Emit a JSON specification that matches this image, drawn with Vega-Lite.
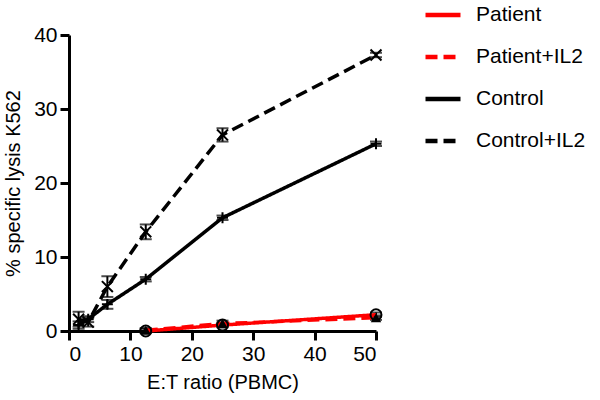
{
  "$schema": "https://vega.github.io/schema/vega-lite/v6.json",
  "autosize": "none",
  "width": 307,
  "height": 296,
  "padding": {"left": 69, "top": 35, "right": 224, "bottom": 69},
  "background": "white",
  "config": {
    "view": {"stroke": null},
    "font": "Liberation Sans",
    "axis": {
      "domainColor": "black", "domainWidth": 3, "tickColor": "black", "tickWidth": 3, "tickSize": 9,
      "labelColor": "black", "labelFontSize": 21, "labelFont": "Liberation Sans",
      "titleColor": "black", "titleFontSize": 20, "titleFont": "Liberation Sans", "titleFontWeight": "normal",
      "grid": false, "labelPadding": 3
    }
  },
  "data": {"values": [
    {"series": "Control+IL2", "x": 1.5625, "y": 1.6, "lo": 0.6, "hi": 2.6},
    {"series": "Control+IL2", "x": 3.125, "y": 1.2, "lo": 0.6, "hi": 1.8},
    {"series": "Control+IL2", "x": 6.25, "y": 6.0, "lo": 4.6, "hi": 7.4},
    {"series": "Control+IL2", "x": 12.5, "y": 13.4, "lo": 12.4, "hi": 14.4},
    {"series": "Control+IL2", "x": 25, "y": 26.5, "lo": 25.6, "hi": 27.4},
    {"series": "Control+IL2", "x": 50, "y": 37.3, "lo": 37.0, "hi": 37.6},
    {"series": "Control", "x": 1.5625, "y": 0.8, "lo": 0.3, "hi": 1.3},
    {"series": "Control", "x": 3.125, "y": 1.6, "lo": 1.2, "hi": 2.0},
    {"series": "Control", "x": 6.25, "y": 3.6, "lo": 3.0, "hi": 4.2},
    {"series": "Control", "x": 12.5, "y": 7.0, "lo": 6.7, "hi": 7.3},
    {"series": "Control", "x": 25, "y": 15.3, "lo": 15.0, "hi": 15.6},
    {"series": "Control", "x": 50, "y": 25.3, "lo": 25.0, "hi": 25.6},
    {"series": "Patient", "x": 12.5, "y": 0.0, "lo": -0.3, "hi": 0.3},
    {"series": "Patient", "x": 25, "y": 0.8, "lo": 0.5, "hi": 1.1},
    {"series": "Patient", "x": 50, "y": 2.2, "lo": 1.9, "hi": 2.5},
    {"series": "Patient+IL2", "x": 12.5, "y": 0.1, "lo": -0.2, "hi": 0.4},
    {"series": "Patient+IL2", "x": 25, "y": 1.0, "lo": 0.6, "hi": 1.4},
    {"series": "Patient+IL2", "x": 50, "y": 1.8, "lo": 1.5, "hi": 2.1}
  ]},
  "layer": [
    {
      "mark": {"type": "rule", "color": "black", "strokeWidth": 2},
      "encoding": {
        "x": {"field": "x", "type": "quantitative"},
        "y": {"field": "lo", "type": "quantitative"},
        "y2": {"field": "hi"}
      }
    },
    {
      "mark": {"type": "tick", "color": "black", "thickness": 2, "size": 12, "orient": "horizontal"},
      "encoding": {
        "x": {"field": "x", "type": "quantitative"},
        "y": {"field": "lo", "type": "quantitative"}
      }
    },
    {
      "mark": {"type": "tick", "color": "black", "thickness": 2, "size": 12, "orient": "horizontal"},
      "encoding": {
        "x": {"field": "x", "type": "quantitative"},
        "y": {"field": "hi", "type": "quantitative"}
      }
    },
    {
      "mark": {"type": "line", "strokeWidth": 3.5},
      "encoding": {
        "x": {"field": "x", "type": "quantitative", "scale": {"domain": [0, 50], "nice": false},
              "axis": {"values": [0, 10, 20, 30, 40, 50], "title": "E:T ratio (PBMC)", "titlePadding": 8}},
        "y": {"field": "y", "type": "quantitative", "scale": {"domain": [0, 40], "nice": false},
              "axis": {"values": [0, 10, 20, 30, 40], "title": "% specific lysis K562", "titlePadding": 10}},
        "color": {"field": "series", "type": "nominal",
                  "scale": {"domain": ["Patient", "Patient+IL2", "Control", "Control+IL2"], "range": ["#ff0000", "#ff0000", "black", "black"]},
                  "legend": {"title": null, "orient": "none", "legendX": 354, "legendY": -40, "symbolType": "stroke", "symbolSize": 1225,
                             "symbolStrokeWidth": 4.5, "labelFontSize": 21, "labelColor": "black", "labelFont": "Liberation Sans", "rowPadding": 12, "labelOffset": 13}},
        "strokeDash": {"field": "series", "type": "nominal",
                  "scale": {"domain": ["Patient", "Patient+IL2", "Control", "Control+IL2"], "range": [[1, 0], [12, 6], [1, 0], [12, 6]]},
                  "legend": {"title": null, "orient": "none", "legendX": 354, "legendY": -40, "symbolType": "stroke", "symbolSize": 1225,
                             "symbolStrokeWidth": 4.5, "labelFontSize": 21, "labelColor": "black", "labelFont": "Liberation Sans", "rowPadding": 12, "labelOffset": 13}},
        "order": {"field": "x"}
      }
    },
    {
      "transform": [{"filter": "datum.series === 'Patient'"}],
      "mark": {"type": "point", "filled": false, "strokeWidth": 2, "color": "black", "size": 120, "opacity": 1, "shape": "circle"},
      "encoding": {"x": {"field": "x", "type": "quantitative"}, "y": {"field": "y", "type": "quantitative"}}
    },
    {
      "transform": [{"filter": "datum.series === 'Patient+IL2'"}],
      "mark": {"type": "point", "filled": true, "color": "black", "size": 110, "opacity": 1, "shape": "triangle-up"},
      "encoding": {"x": {"field": "x", "type": "quantitative"}, "y": {"field": "y", "type": "quantitative"}}
    },
    {
      "transform": [{"filter": "datum.series === 'Control'"}],
      "mark": {"type": "point", "filled": false, "strokeWidth": 2, "color": "black", "size": 120, "opacity": 1, "shape": "M-1,0L1,0M0,-1L0,1"},
      "encoding": {"x": {"field": "x", "type": "quantitative"}, "y": {"field": "y", "type": "quantitative"}}
    },
    {
      "transform": [{"filter": "datum.series === 'Control+IL2'"}],
      "mark": {"type": "point", "filled": false, "strokeWidth": 2, "color": "black", "size": 120, "opacity": 1, "shape": "M-1,-1L1,1M1,-1L-1,1"},
      "encoding": {"x": {"field": "x", "type": "quantitative"}, "y": {"field": "y", "type": "quantitative"}}
    }
  ]
}
